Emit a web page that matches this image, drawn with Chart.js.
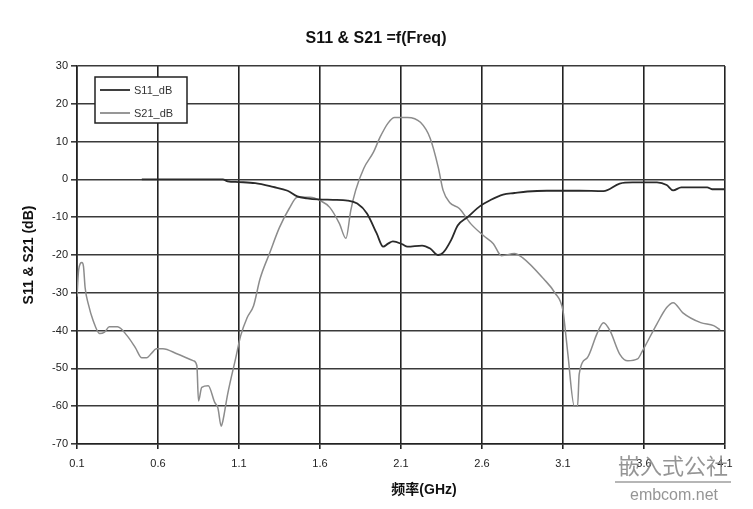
<!DOCTYPE html>
<html><head><meta charset="utf-8">
<script src="https://cdn.jsdelivr.net/npm/chart.js@4.4.1/dist/chart.umd.min.js"></script>
<style>html,body{margin:0;padding:0;background:#fff}#wrap{width:753px;height:509px}</style>
</head><body><div id="wrap"><canvas id="c" width="753" height="509"></canvas></div>
<script>
const chartTitle = "S11 & S21 =f(Freq)";
const xTitle = "频率(GHz)";
const yTitle = "S11 & S21 (dB)";
const xTicks = [0.1, 0.6, 1.1, 1.6, 2.1, 2.6, 3.1, 3.6, 4.1];
const yMin = -70, yMax = 30, yStep = 10;
const seriesNames = ["S11_dB", "S21_dB"];

const s11Freq = [0.5,0.7,0.9,1.0,1.03,1.1,1.2,1.31,1.4,1.46,1.52,1.59,1.68,1.77,1.83,1.89,1.95,1.99,2.02,2.05,2.11,2.14,2.23,2.28,2.33,2.36,2.41,2.45,2.51,2.59,2.65,2.73,2.8,2.88,3.0,3.2,3.35,3.45,3.53,3.68,3.74,3.78,3.83,3.99,4.02,4.1];
const s11Db = [0,0,0,0,-0.5,-0.7,-1,-2,-3,-4.5,-5,-5.3,-5.4,-5.6,-6.4,-9,-14.3,-17.8,-17,-16.4,-17.2,-17.8,-17.5,-18.3,-20,-19.4,-16,-12.2,-10,-7,-5.5,-4,-3.6,-3.2,-3,-3,-3.1,-1.1,-0.8,-0.8,-1.5,-2.9,-2.1,-2.1,-2.6,-2.6];

const s21Freq = [0.1,0.11,0.13,0.14,0.15,0.17,0.2,0.24,0.27,0.3,0.35,0.41,0.46,0.5,0.53,0.56,0.59,0.63,0.72,0.82,0.84,0.85,0.87,0.91,0.95,0.97,0.99,1.0,1.03,1.08,1.11,1.15,1.19,1.23,1.29,1.35,1.41,1.46,1.54,1.6,1.66,1.72,1.76,1.79,1.82,1.87,1.93,1.97,2.02,2.06,2.14,2.22,2.28,2.33,2.36,2.4,2.46,2.53,2.61,2.67,2.72,2.8,2.85,2.98,3.05,3.1,3.11,3.13,3.17,3.19,3.2,3.25,3.31,3.35,3.39,3.45,3.5,3.56,3.59,3.68,3.74,3.78,3.84,3.95,4.03,4.07];
const s21Db = [-31,-24,-22,-23,-28.6,-33,-37.4,-40.8,-40.4,-39,-39,-41.4,-44.5,-47.2,-47.2,-46,-44.8,-44.8,-46.2,-48,-49.3,-58.6,-55,-54.6,-59,-60.5,-65.3,-64,-56.8,-47.2,-41.4,-36.6,-33.4,-26.3,-19.4,-12.7,-7.7,-4.7,-4.7,-5.6,-7.4,-11.7,-15.6,-8.2,-2.9,2.9,7.2,11.1,14.9,16.4,16.4,15.1,10.9,3.2,-2.9,-6.1,-7.7,-11.7,-14.9,-17,-20.2,-19.6,-20.7,-26.3,-30,-34.7,-38.2,-46.2,-60,-60,-51.5,-47.2,-40.8,-37.9,-40,-46.2,-48,-47.5,-45.4,-38.2,-33.9,-32.6,-35.3,-37.9,-38.7,-39.8];

const colors = ["#2a2a2a", "#8c8c8c"];
const toPts = (xs, ys) => xs.map((x, i) => ({x: x, y: ys[i]}));

const decor = {
  id: 'decor',
  afterDraw(chart) {
    const ctx = chart.ctx, a = chart.chartArea;
    ctx.save();
    ctx.fillStyle = '#111';
    ctx.textAlign = 'center'; ctx.textBaseline = 'middle';
    ctx.font = 'bold 16px "Liberation Sans", Arial, sans-serif';
    ctx.fillText(chartTitle, 376, 39);
    ctx.font = 'bold 14px "Liberation Sans", "Noto Sans CJK SC", sans-serif';
    ctx.fillText(xTitle, 424, 490);
    ctx.save();
    ctx.translate(29, (a.top + a.bottom) / 2);
    ctx.rotate(-Math.PI / 2);
    ctx.font = 'bold 14px "Liberation Sans", Arial, sans-serif';
    ctx.fillText(yTitle, 0, 0);
    ctx.restore();
    // legend box
    const lx = 95, ly = 77, lw = 92, lh = 46;
    ctx.fillStyle = '#fff';
    ctx.fillRect(lx, ly, lw, lh);
    ctx.strokeStyle = '#222'; ctx.lineWidth = 1.5;
    ctx.strokeRect(lx, ly, lw, lh);
    ctx.font = '11px "Liberation Sans", Arial, sans-serif';
    ctx.textAlign = 'left';
    seriesNames.forEach((n, i) => {
      const yy = ly + 13 + i * 23;
      ctx.strokeStyle = colors[i]; ctx.lineWidth = 1.8;
      ctx.beginPath(); ctx.moveTo(lx + 5, yy); ctx.lineTo(lx + 35, yy); ctx.stroke();
      ctx.fillStyle = '#333';
      ctx.fillText(n, lx + 39, yy + 1);
    });
    // watermark
    ctx.fillStyle = 'rgba(130,130,130,0.85)';
    ctx.font = '22px "Noto Sans CJK SC", sans-serif';
    ctx.textAlign = 'center';
    ctx.fillText('嵌入式公社', 673, 466);
    ctx.strokeStyle = 'rgba(140,140,140,0.85)'; ctx.lineWidth = 1.5;
    ctx.beginPath(); ctx.moveTo(615, 482); ctx.lineTo(731, 482); ctx.stroke();
    ctx.font = '16px "Liberation Sans", Arial, sans-serif';
    ctx.fillText('embcom.net', 674, 496);
    ctx.restore();
  }
};

new Chart(document.getElementById('c'), {
  type: 'line',
  data: {
    datasets: [
      {label: seriesNames[0], data: toPts(s11Freq, s11Db), borderColor: colors[0], borderWidth: 1.8, pointRadius: 0, cubicInterpolationMode: 'monotone', fill: false},
      {label: seriesNames[1], data: toPts(s21Freq, s21Db), borderColor: colors[1], borderWidth: 1.5, pointRadius: 0, cubicInterpolationMode: 'monotone', fill: false}
    ]
  },
  options: {
    responsive: false, animation: false,
    layout: {padding: {top: 66, right: 28, left: 0, bottom: 0}},
    plugins: {legend: {display: false}, title: {display: false}, tooltip: {enabled: false}},
    scales: {
      x: {
        type: 'linear', min: 0.1, max: 4.1,
        afterBuildTicks(s) { s.ticks = xTicks.map(v => ({value: v})); },
        afterFit(s) { s.height = 65; },
        grid: {color: '#222', lineWidth: 1.6, tickLength: 5, drawTicks: true},
        border: {color: '#222', width: 1.6},
        ticks: {color: '#222', font: {size: 11, family: '"Liberation Sans", Arial, sans-serif'}, padding: 8, maxRotation: 0,
          callback: v => v.toFixed(1)}
      },
      y: {
        min: yMin, max: yMax,
        ticks: {stepSize: yStep, color: '#222', font: {size: 11, family: '"Liberation Sans", Arial, sans-serif'}, padding: 3},
        afterFit(s) { s.width = 77; },
        grid: {color: '#3a3a3a', lineWidth: 1.6, tickLength: 6},
        border: {color: '#222', width: 1.6}
      }
    }
  },
  plugins: [decor]
});
</script></body></html>
